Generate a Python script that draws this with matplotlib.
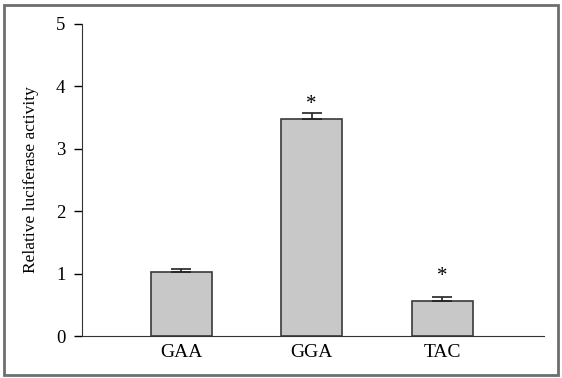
import matplotlib
matplotlib.use('Agg')
import matplotlib.pyplot as plt
from matplotlib.patches import Rectangle

groups = ['GAA', 'GGA', 'TAC']
values = [1.02, 3.48, 0.56]
errors = [0.06, 0.09, 0.06]
stars = ['', '*', '*']
star_y = [None, 3.56, 0.80]

plt.rcParams['font.family'] = 'Liberation Serif'

fig = plt.figure(figsize=(5.62, 3.78), dpi=100)
ax = fig.add_axes([0.146, 0.111, 0.822, 0.826])

x = range(len(groups))
ax.bar(x, values, width=0.47, color='#c8c8c9', edgecolor='#3a3a3a', linewidth=1.2,
       yerr=[[0] * len(errors), errors], capsize=7,
       error_kw=dict(ecolor='#222222', elinewidth=1.2, capthick=1.2))

for i, (s, sy) in enumerate(zip(stars, star_y)):
    if s:
        ax.text(i, sy, s, ha='center', va='bottom', fontsize=15)

ax.set_xlim(-0.76, 2.78)
ax.set_ylim(0, 5)
ax.set_yticks(range(6))
ax.set_xticks(list(x))
ax.set_xticklabels(groups, fontsize=14)
ax.tick_params(axis='x', length=0, pad=6)
ax.tick_params(axis='y', length=6, width=1, labelsize=13.5, pad=6)
ax.spines['top'].set_visible(False)
ax.spines['right'].set_visible(False)
ax.spines['left'].set_color('#333333')
ax.spines['bottom'].set_color('#333333')
ax.set_ylabel('Relative luciferase activity', fontsize=12.5, labelpad=12)

# outer frame
fig.patches.append(Rectangle((0.008, 0.009), 0.984, 0.977, transform=fig.transFigure,
                             fill=False, edgecolor='#6e6e6e', linewidth=2.0))

plt.savefig('out.png', dpi=100)
